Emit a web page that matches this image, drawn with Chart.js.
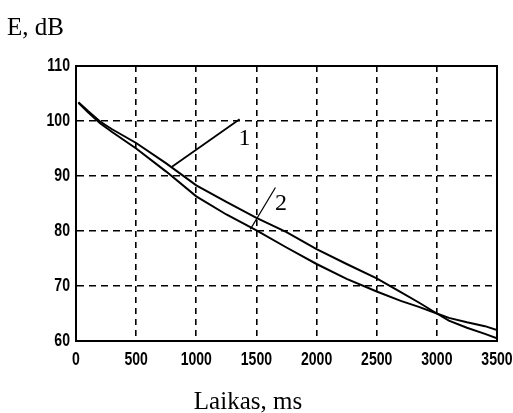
<!DOCTYPE html>
<html>
<head>
<meta charset="utf-8">
<script src="https://cdn.jsdelivr.net/npm/chart.js@4"></script>
<style>
  body { margin: 0; background: #fff; }
</style>
</head>
<body>
<canvas id="myChart" width="513" height="413"></canvas>
<script>
// curve 1 and curve 2
const timeMs = [20, 100, 200, 300, 500, 750, 1000, 1250, 1500, 1750, 2000, 2250, 2500, 2700, 2850, 3000, 3100, 3250, 3400, 3500];
const curve1 = [103.4, 101.8, 99.9, 98.5, 96.0, 92.3, 88.3, 85.3, 82.4, 79.8, 76.7, 74.0, 71.4, 68.9, 67.0, 65.0, 63.7, 62.4, 61.3, 60.5];
const curve2 = [103.3, 101.6, 99.6, 98.0, 95.0, 90.8, 86.3, 83.0, 80.1, 77.0, 74.0, 71.3, 69.0, 67.3, 66.2, 65.0, 64.2, 63.4, 62.7, 62.0];

// leader lines for the curve numbers
const leader1X = [798, 1360];
const leader1Y = [91.7, 100.3];
const leader2X = [1449, 1658];
const leader2Y = [80.3, 87.9];
const curveLabels = ["1", "2"];
const curveLabelX = [1400, 1705];
const curveLabelY = [97.1, 85.2];

const xTicks = [0, 500, 1000, 1500, 2000, 2500, 3000, 3500];
const yTicks = [60, 70, 80, 90, 100, 110];

const pts = (xs, ys) => xs.map((x, i) => ({x: x, y: ys[i]}));
const lineStyle = {borderColor: "#000", borderWidth: 2, pointRadius: 0, tension: 0, fill: false};

// the original tick digits are bold and very narrow, so they are drawn squeezed
function narrowText(c, text, x, y, align) {
  const sx = 0.74;
  c.save();
  c.translate(x, y);
  c.scale(sx, 1);
  c.textAlign = align;
  c.fillText(text, 0, 0);
  c.restore();
}

const extras = {
  id: "extras",
  afterDraw(chart) {
    const c = chart.ctx;
    const a = chart.chartArea;
    const xs = chart.scales.x, ys = chart.scales.y;
    c.save();
    c.strokeStyle = "#000";
    c.lineWidth = 2;
    c.strokeRect(a.left, a.top, a.right - a.left, a.bottom - a.top);
    c.fillStyle = "#000";

    c.font = "bold 19px 'Liberation Sans', Arial, sans-serif";
    c.textBaseline = "middle";
    xs.ticks.forEach(t => narrowText(c, String(t.value), xs.getPixelForValue(t.value), a.bottom + 19, "center"));
    ys.ticks.forEach(t => narrowText(c, String(t.value), a.left - 6, ys.getPixelForValue(t.value), "right"));

    c.font = "24px 'Liberation Serif', 'Times New Roman', serif";
    c.textBaseline = "alphabetic";
    c.textAlign = "center";
    curveLabels.forEach((t, i) => {
      c.fillText(t, xs.getPixelForValue(curveLabelX[i]), ys.getPixelForValue(curveLabelY[i]) + 8);
    });
    c.font = "25px 'Liberation Serif', 'Times New Roman', serif";
    c.textAlign = "left";
    c.fillText("E, dB", 7, 35);
    c.textAlign = "center";
    c.fillText("Laikas, ms", 248, 409);
    c.restore();
  }
};

new Chart(document.getElementById("myChart"), {
  type: "line",
  data: {
    datasets: [
      {data: pts(timeMs, curve1), ...lineStyle},
      {data: pts(timeMs, curve2), ...lineStyle},
      {data: pts(leader1X, leader1Y), ...lineStyle, borderWidth: 1.8},
      {data: pts(leader2X, leader2Y), ...lineStyle, borderWidth: 1.2}
    ]
  },
  options: {
    responsive: false,
    animation: false,
    layout: {padding: {top: 66, right: 16, bottom: 42, left: 0}},
    plugins: {legend: {display: false}, tooltip: {enabled: false}},
    scales: {
      x: {
        type: "linear", min: 0, max: 3500,
        afterFit: s => { s.height = 30; s.paddingLeft = 0; s.paddingRight = 0; },
        afterBuildTicks: s => { s.ticks = xTicks.map(v => ({value: v})); },
        grid: {color: "#000", lineWidth: 1.6, drawTicks: false},
        border: {color: "#000", width: 2, dash: [6, 5]},
        ticks: {display: false}
      },
      y: {
        min: 60, max: 110,
        afterFit: s => { s.width = 76; s.paddingTop = 0; s.paddingBottom = 0; },
        afterBuildTicks: s => { s.ticks = yTicks.map(v => ({value: v})); },
        grid: {color: "#000", lineWidth: 1.6, drawTicks: false},
        border: {color: "#000", width: 2, dash: [7, 5]},
        ticks: {display: false}
      }
    }
  },
  plugins: [extras]
});
</script>
</body>
</html>
